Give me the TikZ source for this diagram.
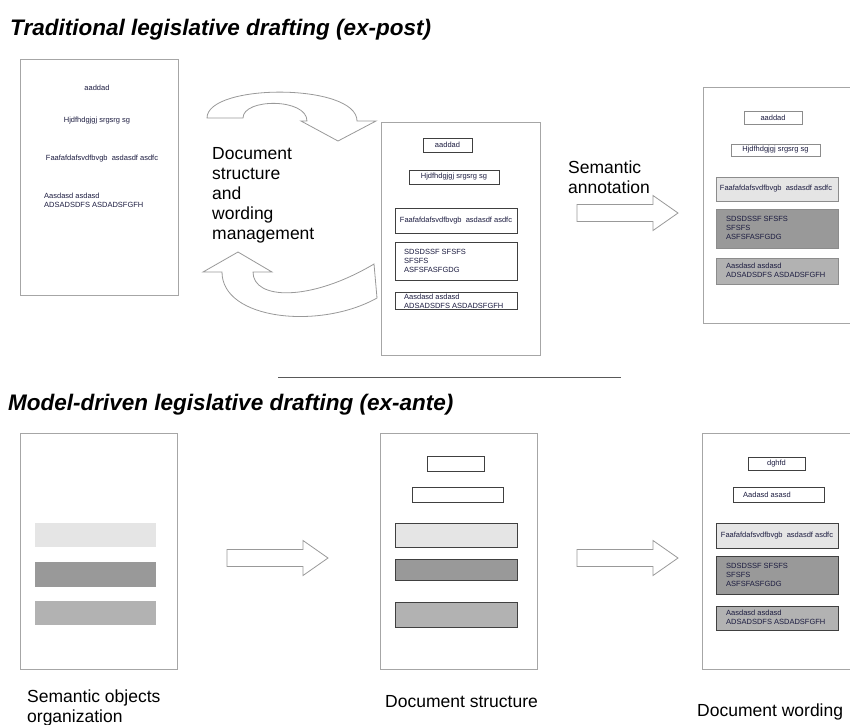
\documentclass[tikz,border=0pt]{standalone}
\usepackage{fontspec}
\setmainfont{Liberation Sans}
\definecolor{inktext}{RGB}{28,28,64}
\tikzset{
  page/.style={draw=black!35, line width=.9pt},
  box/.style={draw=black!75, line width=.7pt},
  softbox/.style={draw=black!45, line width=.7pt},
  small/.style={font=\fontsize{7.5}{9}\selectfont, text=inktext, inner sep=0pt, align=left},
  big/.style={font=\fontsize{17.5}{20}\selectfont, inner sep=0pt, align=left},
  heading/.style={font=\fontsize{22.5}{26}\selectfont\bfseries\itshape, inner sep=0pt},
  blockarrow/.style={draw=black!40, fill=white, line width=.8pt, line join=miter}
}
\begin{document}
\begin{tikzpicture}[x=1pt,y=-1pt]
\useasboundingbox (0,0) rectangle (850,724);

\node[heading,anchor=base west] (expost) at (10,35) {Traditional legislative drafting (ex-post)};
\node[heading,anchor=base west] (exante) at (8,410) {Model-driven legislative drafting (ex-ante)};
\draw[black!65,line width=.9pt] (278,377) -- (621,377);

%% ex-post: plain text page
\draw[page] (20,59) rectangle (178,295);
\node[small] (p1a) at (97,88) {aaddad};
\node[small] (p1b) at (97,121) {Hjdfhdgjgj srgsrg sg};
\node[small] (p1c) at (102,159) {Faafafdafsvdfbvgb\ \ asdasdf asdfc};
\node[small,anchor=west] (p1d) at (44,200) {Aasdasd asdasd\\ADSADSDFS ASDADSFGFH};

% structure and wording loop
\draw[blockarrow] (243,118) .. controls (243,98) and (307,98) .. (307,121) -- (301,121) -- (338,141)
  -- (376,121) -- (357,121) .. controls (357,83) and (207,83) .. (207,118) -- cycle;
\draw[blockarrow] (222,272) -- (203,272) -- (238,252) -- (272,272) -- (253,272)
  .. controls (253,300) and (310,302) .. (374,264) -- (377,298)
  .. controls (320,330) and (222,320) .. (222,272) -- cycle;
\node[big,anchor=west] (loop) at (212,195) {Document\\structure\\and\\wording\\management};

%% ex-post: structured page
\draw[page] (381,122) rectangle (540,355);
\foreach \xa/\ya/\xb/\yb in {423/138/472/152, 409/170/499/184, 395/208/517/233, 395/242/517/280, 395/292/517/309}
  \draw[box,fill=white] (\xa,\ya) rectangle (\xb,\yb);
\node[small] (p2a) at (447.5,145) {aaddad};
\node[small] (p2b) at (454,177) {Hjdfhdgjgj srgsrg sg};
\node[small] (p2c) at (456,220.5) {Faafafdafsvdfbvgb\ \ asdasdf asdfc};
\node[small,anchor=west] (p2d) at (404,261) {SDSDSSF SFSFS\\SFSFS\\ASFSFASFGDG};
\node[small,anchor=west] (p2e) at (404,301.5) {Aasdasd asdasd\\ADSADSDFS ASDADSFGFH};

\node[big,anchor=west] (annot) at (568,177) {Semantic\\annotation};

% block arrows
\foreach \ax/\ay in {577/213, 227/558, 577/558}
  \draw[blockarrow] (\ax,\ay) ++(0,-8.5) -- ++(76,0) -- ++(0,-9) -- ++(25,17.5) -- ++(-25,17.5)
    -- ++(0,-9) -- ++(-76,0) -- cycle;

%% ex-post: annotated page
\draw[page] (860,87) -- (703,87) -- (703,323) -- (860,323);
\foreach \xa/\ya/\xb/\yb/\c in {744/111/802/124/white, 731/144/820/156/white, 716/177/838/201/black!10,
  716/209/838/248/black!40, 716/258/838/284/black!30}
  \draw[softbox,fill=\c] (\xa,\ya) rectangle (\xb,\yb);
\node[small] (p3a) at (773,117.5) {aaddad};
\node[small] (p3b) at (775.5,150) {Hjdfhdgjgj srgsrg sg};
\node[small] (p3c) at (776,189) {Faafafdafsvdfbvgb\ \ asdasdf asdfc};
\node[small,anchor=west] (p3d) at (726,228) {SDSDSSF SFSFS\\SFSFS\\ASFSFASFGDG};
\node[small,anchor=west] (p3e) at (726,270.5) {Aasdasd asdasd\\ADSADSDFS ASDADSFGFH};

%% ex-ante: semantic objects
\draw[page] (20,433) rectangle (177,669);
\foreach \ya/\yb/\c in {523/547/black!10, 562/587/black!40, 601/625/black!30}
  \fill[\c] (35,\ya) rectangle (156,\yb);
\node[big,anchor=north west] (objects) at (27,690) {Semantic objects\\organization};

%% ex-ante: document structure
\draw[page] (380,433) rectangle (537,669);
\foreach \xa/\ya/\xb/\yb/\c in {427/456/484/471/white, 412/487/503/502/white, 395/523/517/547/black!10,
  395/559/517/580/black!40, 395/602/517/627/black!30}
  \draw[box,fill=\c] (\xa,\ya) rectangle (\xb,\yb);
\node[big,anchor=west] (structure) at (385,702) {Document structure};

%% ex-ante: document wording
\draw[page] (860,433) -- (702,433) -- (702,669) -- (860,669);
\foreach \xa/\ya/\xb/\yb/\c in {748/457/805/470/white, 733/487/824/502/white, 716/523/838/548/black!10,
  716/556/838/594/black!40, 716/606/838/630/black!30}
  \draw[box,fill=\c] (\xa,\ya) rectangle (\xb,\yb);
\node[small] (p4a) at (776.5,463.5) {dghfd};
\node[small,anchor=west] (p4b) at (743,494.5) {Aadasd asasd};
\node[small] (p4c) at (777,535.5) {Faafafdafsvdfbvgb\ \ asdasdf asdfc};
\node[small,anchor=west] (p4d) at (726,574.5) {SDSDSSF SFSFS\\SFSFS\\ASFSFASFGDG};
\node[small,anchor=west] (p4e) at (726,617) {Aasdasd asdasd\\ADSADSDFS ASDADSFGFH};
\node[big,anchor=west] (wording) at (697,712) {Document wording};
\end{tikzpicture}
\end{document}
